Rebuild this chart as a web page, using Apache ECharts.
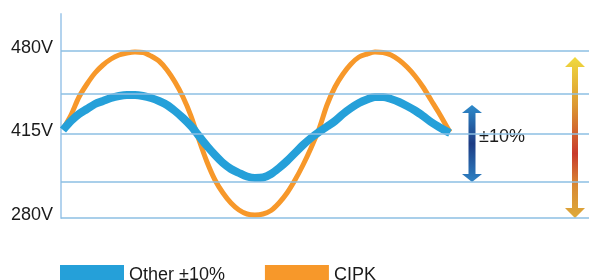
<!DOCTYPE html>
<html><head><meta charset="utf-8">
<script src="https://cdn.jsdelivr.net/npm/echarts@6/dist/echarts.min.js"></script>
<style>html,body{margin:0;padding:0;background:#fff}#c{width:589px;height:280px}</style>
</head><body><div id="c"></div>
<script>
// Series names
const seriesNames = ['Other ±10%', 'CIPK'];
// Sample positions along the x axis
const xs = [2, 10, 18, 26, 34, 42, 50, 58, 66, 74, 82, 90, 98, 106, 114, 122, 130, 138, 146, 154, 162, 170, 178, 186, 194, 202, 210, 218, 226, 234, 242, 250, 258, 266, 274, 282, 290, 298, 306, 314, 322, 330, 338, 346, 354, 362, 370, 378, 386, 389];
// Wave levels
const otherWave = [88, 97, 104, 109, 114, 117, 120, 122, 123, 123, 122, 120, 117, 113, 107, 100, 92, 82, 72, 63, 55, 49, 45, 41.5, 40, 40.5, 44, 50, 57, 65, 73, 80, 86, 91.5, 97, 104, 110, 115, 118.5, 121, 121, 119, 116, 112, 107.5, 102, 96, 91, 86.5, 85];
const cipkWave = [89, 103, 121, 134, 145, 153, 159, 163, 165, 166, 165.5, 162, 157, 148, 136, 121, 102, 78, 56, 38, 25, 15, 8, 4, 3, 4, 7.5, 15, 25, 38, 53, 70, 89, 113, 131, 144, 154, 161, 164, 166, 165.5, 163, 158, 151, 142, 131, 118, 105, 91, 86];
// Horizontal guide levels
const gridLevels = [0, 36, 84, 124, 167];
// Tick labels and their levels
const tickLabels = ['280V', '415V', '480V'];
const tickLevels = [0, 84, 167];
const rangeLabel = '±10%';

const chart = echarts.init(document.getElementById('c'), null, {renderer: 'canvas'});
const FONT = 'Liberation Sans';
function doubleArrow(cx, top, bottom, headH, headW, shaftW) {
  return [[cx, top], [cx + headW, top + headH], [cx + shaftW, top + headH], [cx + shaftW, bottom - headH],
          [cx + headW, bottom - headH], [cx, bottom], [cx - headW, bottom - headH], [cx - shaftW, bottom - headH],
          [cx - shaftW, top + headH], [cx - headW, top + headH]];
}
chart.setOption({
  animation: false,
  textStyle: {fontFamily: FONT},
  grid: {left: 61, right: 0, top: 14, bottom: 62},
  xAxis: {type: 'value', min: 0, max: 528, show: false},
  yAxis: {
    type: 'value', min: 0, max: 204,
    axisLine: {show: true, lineStyle: {color: '#b3d3ee', width: 2}},
    axisTick: {show: false},
    splitLine: {show: false},
    axisLabel: {
      customValues: tickLevels,
      margin: 8,
      formatter: (v) => '{a|' + tickLabels[tickLevels.indexOf(v)] + '}',
      rich: {a: {fontSize: 18, color: '#1a1a1a', fontFamily: FONT, padding: [0, 0, 6, 0]}}
    }
  },
  legend: {
    left: 55, top: 260, itemWidth: 64, itemHeight: 20, itemGap: 40, icon: 'rect',
    textStyle: {fontSize: 18, color: '#1a1a1a', fontFamily: FONT},
    data: seriesNames
  },
  series: [
    {
      name: seriesNames[1], type: 'line', data: xs.map((x, i) => [x, cipkWave[i]]), smooth: 0.3, showSymbol: false,
      itemStyle: {color: '#f7982a'}, lineStyle: {color: '#f7982a', width: 5}, z: 3,
      markLine: {silent: true, symbol: 'none', label: {show: false},
        lineStyle: {color: '#8dbfe3', width: 1.5, type: 'solid'},
        data: gridLevels.map(v => ({yAxis: v}))}
    },
    {
      name: seriesNames[0], type: 'line', data: xs.map((x, i) => [x, otherWave[i]]), smooth: 0.3, showSymbol: false,
      itemStyle: {color: '#25a0d9'}, lineStyle: {color: '#25a0d9', width: 8}, z: 4
    }
  ],
  graphic: [
    {type: 'polygon', shape: {points: doubleArrow(472, 105, 182, 8, 10, 3.5)},
      style: {fill: new echarts.graphic.LinearGradient(0, 0, 0, 1, [
        {offset: 0, color: '#2e8bcb'}, {offset: 0.5, color: '#1d3c84'}, {offset: 1, color: '#2e82c4'}])}},
    {type: 'text', left: 479, top: 128, style: {text: rangeLabel, fontSize: 18, fill: '#1a1a1a', fontFamily: FONT}},
    {type: 'polygon', shape: {points: doubleArrow(575, 57, 218, 10, 10, 3)},
      style: {fill: new echarts.graphic.LinearGradient(0, 0, 0, 1, [
        {offset: 0, color: '#f0da3e'}, {offset: 0.3, color: '#dc9832'}, {offset: 0.6, color: '#c83a2c'},
        {offset: 0.8, color: '#d88a34'}, {offset: 1, color: '#deaa3a'}])}}
  ]
});
</script></body></html>
